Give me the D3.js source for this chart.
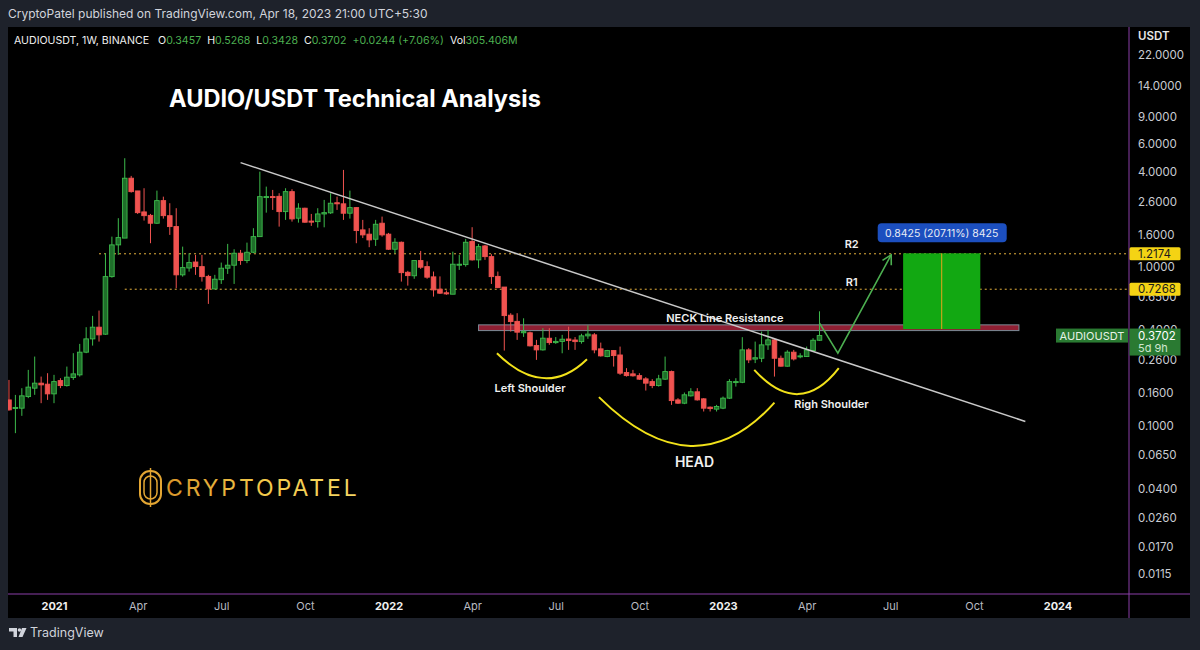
<!DOCTYPE html>
<html>
<head>
<meta charset="utf-8">
<script src="https://cdn.jsdelivr.net/npm/d3@7"></script>
<style>
  body { margin: 0; background: #1e222b; }
  svg text { font-family: "Inter", "Roboto", "DejaVu Sans", sans-serif; }
</style>
</head>
<body>
<div id="chart"></div>
<script>
// weekly bars, first bar = week of 16 Nov 2020
var firstWeek = "2020-11-16";
var opens = [0.145, 0.128, 0.1286, 0.1523, 0.1721, 0.1851, 0.1824, 0.1584, 0.1922, 0.1787,
    0.2010, 0.2089, 0.2906, 0.3527, 0.4182, 0.3777, 0.8732, 1.386, 1.53, 3.66,
    3.04, 2.24, 2.13, 1.90, 2.64, 2.12, 1.81, 0.896, 0.99, 1.08,
    1.01, 0.876, 0.730, 0.835, 0.987, 1.031, 1.2275, 1.103, 1.245, 1.563,
    2.78, 2.80, 2.81, 2.25, 3.009, 2.044, 2.364, 1.96, 1.945, 2.175,
    2.21, 2.56, 2.52, 2.198, 2.385, 1.724, 1.62, 1.505, 1.90, 1.62,
    1.301, 1.440, 0.93, 0.884, 1.103, 1.01, 0.87, 0.727, 0.69, 0.676,
    1.031, 1.04, 1.455, 1.114, 1.365, 1.168, 0.876, 0.75, 0.498, 0.455,
    0.3855, 0.3855, 0.320, 0.3005, 0.356, 0.334, 0.340, 0.352, 0.347, 0.339,
    0.3685, 0.374, 0.305, 0.2726, 0.2975, 0.279, 0.2160, 0.2119, 0.2066, 0.1970,
    0.1894, 0.1787, 0.1962, 0.2191, 0.1451, 0.1383, 0.1539, 0.1632, 0.1473, 0.1305,
    0.1268, 0.1286, 0.1488, 0.1875, 0.1875, 0.3005, 0.2628, 0.2660, 0.3233, 0.3476,
    0.2660, 0.2370, 0.2906, 0.2740, 0.2726, 0.2975, 0.3457];
var highs = [0.194, 0.156, 0.172, 0.2246, 0.2726, 0.2037, 0.2140, 0.2089, 0.1990, 0.2356,
    0.2864, 0.3279, 0.4182, 0.4930, 0.5325, 1.2275, 1.563, 2.044, 4.894, 3.784,
    3.04, 3.162, 2.175, 3.054, 2.797, 2.542, 2.364, 1.351, 1.2275, 1.198,
    1.198, 0.896, 0.896, 1.071, 1.406, 1.301, 1.288, 1.432, 1.767, 4.027,
    3.237, 3.085, 2.940, 3.162, 3.117, 2.542, 2.38, 2.175, 2.364, 2.667,
    2.940, 2.797, 4.128, 3.054, 2.40, 1.994, 1.767, 1.994, 2.092, 1.65,
    1.527, 1.455, 0.95, 1.103, 1.269, 1.09, 0.94, 0.876, 0.714, 1.256,
    1.198, 1.512, 1.793, 1.406, 1.386, 1.21, 0.94, 0.75, 0.5126, 0.5126,
    0.476, 0.392, 0.3476, 0.4122, 0.4122, 0.362, 0.374, 0.421, 0.362, 0.380,
    0.430, 0.384, 0.3341, 0.3005, 0.2990, 0.3153, 0.2303, 0.2246, 0.2140, 0.2020,
    0.1962, 0.2089, 0.2726, 0.2223, 0.1488, 0.1615, 0.1721, 0.1721, 0.1488, 0.1318,
    0.1349, 0.1523, 0.1962, 0.1990, 0.3615, 0.3080, 0.3391, 0.3922, 0.4021, 0.3527,
    0.2765, 0.2990, 0.3005, 0.2864, 0.3153, 0.3563, 0.5268];
var lows = [0.124, 0.0894, 0.115, 0.1488, 0.1562, 0.1383, 0.1451, 0.1383, 0.1721, 0.1761,
    0.1942, 0.2037, 0.2864, 0.3198, 0.3391, 0.3740, 0.86, 1.198, 1.53, 2.966,
    2.175, 1.974, 1.420, 1.881, 2.032, 1.603, 0.7377, 0.873, 0.939, 0.896,
    0.812, 0.587, 0.727, 0.785, 0.908, 0.785, 1.036, 1.062, 1.2275, 1.563,
    2.216, 2.306, 1.808, 1.994, 1.945, 1.916, 1.916, 1.828, 1.783, 1.79,
    2.175, 2.306, 1.994, 2.032, 1.420, 1.53, 1.340, 1.365, 1.563, 1.288,
    1.2275, 0.812, 0.766, 0.846, 0.977, 0.846, 0.6527, 0.679, 0.670, 0.676,
    0.963, 1.010, 1.103, 0.987, 1.114, 0.785, 0.7377, 0.2975, 0.3922, 0.3476,
    0.363, 0.316, 0.2598, 0.2975, 0.3235, 0.328, 0.286, 0.3005, 0.3005, 0.329,
    0.353, 0.286, 0.2726, 0.270, 0.2356, 0.2089, 0.2037, 0.2037, 0.1942, 0.1662,
    0.1721, 0.1761, 0.1942, 0.1349, 0.1370, 0.1364, 0.1523, 0.1436, 0.1225, 0.1225,
    0.1225, 0.1268, 0.1473, 0.1761, 0.1851, 0.2479, 0.2479, 0.2514, 0.3005, 0.2037,
    0.2356, 0.2356, 0.2574, 0.2660, 0.2710, 0.2950, 0.3428];
var closes = [0.1255, 0.130, 0.1539, 0.1747, 0.1851, 0.1806, 0.1584, 0.1894, 0.1787, 0.2020,
    0.2119, 0.2906, 0.3527, 0.4182, 0.3740, 0.8732, 1.386, 1.541, 3.658, 3.009,
    2.216, 2.121, 1.900, 2.640, 2.121, 1.809, 0.896, 0.9957, 1.071, 1.010,
    0.873, 0.730, 0.841, 0.987, 1.031, 1.2275, 1.103, 1.245, 1.563, 2.797,
    2.80, 2.79, 2.250, 3.009, 2.023, 2.364, 1.928, 1.93, 2.175, 2.216,
    2.542, 2.52, 2.198, 2.385, 1.707, 1.603, 1.490, 1.872, 1.603, 1.301,
    1.440, 0.925, 0.886, 1.103, 1.0015, 0.866, 0.7197, 0.686, 0.679, 1.046,
    1.046, 1.440, 1.114, 1.351, 1.168, 0.873, 0.744, 0.495, 0.4537, 0.3888,
    0.392, 0.3186, 0.3005, 0.3563, 0.3341, 0.340, 0.351, 0.344, 0.339, 0.3685,
    0.378, 0.3005, 0.2754, 0.2975, 0.2765, 0.2140, 0.2066, 0.2060, 0.1962, 0.1851,
    0.1787, 0.1970, 0.2191, 0.1436, 0.1383, 0.1562, 0.1632, 0.1451, 0.1286, 0.1278,
    0.1318, 0.1488, 0.1894, 0.1894, 0.3005, 0.2598, 0.2680, 0.3233, 0.3476, 0.2660,
    0.2370, 0.2906, 0.2633, 0.2754, 0.3005, 0.3457, 0.3702];

var yTicks = [22, 14, 9, 6, 4, 2.6, 1.6, 1, 0.65, 0.4, 0.26, 0.16, 0.1, 0.065, 0.04, 0.026, 0.017, 0.0115];
var xTickDates = ["2021-01-04", "2021-04-05", "2021-07-05", "2021-10-04", "2022-01-03", "2022-04-04",
    "2022-07-04", "2022-10-03", "2023-01-02", "2023-04-03", "2023-07-03", "2023-10-02", "2024-01-01"];
var xTickLabels = ["2021", "Apr", "Jul", "Oct", "2022", "Apr", "Jul", "Oct", "2023", "Apr", "Jul", "Oct", "2024"];

// drawings on the chart (date, price)
var levels = [{ name: "R2", price: 1.2174, from: "2021-02-22" }, { name: "R1", price: 0.7268, from: "2021-03-22" }];
var trendLine = [["2021-07-26", 4.59], ["2023-11-27", 0.106]];
var neckBand = { from: "2022-04-11", to: "2023-11-20", top: 0.4326, bottom: 0.398 };
var shoulderArcs = [
    [["2022-05-01", 0.2864], ["2022-06-22", 0.1445], ["2022-08-07", 0.2625]],
    [["2022-08-20", 0.151], ["2022-12-02", 0.038], ["2023-02-27", 0.1394]],
    [["2023-02-05", 0.2246], ["2023-03-26", 0.1095], ["2023-05-08", 0.2302]]
];
var projection = [["2023-04-17", 0.4433], ["2023-05-07", 0.2864], ["2023-07-04", 1.198]];
var target = { from: "2023-07-17", to: "2023-10-09", mid: "2023-08-28", top: 1.226, bottom: 0.4068 };
var notes = [
    { text: "NECK Line Resistance", date: "2023-01-04", price: 0.4516, size: 11 },
    { text: "Left Shoulder", date: "2022-06-06", price: 0.163, size: 11 },
    { text: "HEAD", date: "2022-12-02", price: 0.0548, size: 14 },
    { text: "Righ Shoulder", date: "2023-04-30", price: 0.1292, size: 11 },
    { text: "R2", date: "2023-05-22", price: 1.325, size: 11 },
    { text: "R1", date: "2023-05-22", price: 0.763, size: 11 }
];
var lastPrice = 0.3702;

var W = 1200, H = 650;
var plot = { left: 8, top: 27, right: 1129, bottom: 594 };

var svg = d3.select("#chart")
    .append("svg")
    .attr("width", W)
    .attr("height", H);

svg.append("rect").attr("width", W).attr("height", H).attr("fill", "#1e222b");
svg.append("rect")
    .attr("x", 8).attr("y", 27)
    .attr("width", 1182).attr("height", 591)
    .attr("fill", "#000");

var x = d3.scaleUtc()
    .domain([new Date("2021-01-04"), new Date("2024-01-01")])
    .range([54, 1057.5]);

var y = d3.scaleLog()
    .domain([0.0115, 22])
    .range([574, 55]);

function pt(p) { return [x(new Date(p[0])), y(p[1])]; }

svg.append("clipPath").attr("id", "plotclip")
    .append("rect")
    .attr("x", plot.left).attr("y", plot.top)
    .attr("width", plot.right - plot.left).attr("height", plot.bottom - plot.top);

var g = svg.append("g").attr("clip-path", "url(#plotclip)");

// candle data
var bars = opens.map(function (o, i) {
    return {
        date: d3.utcMonday.offset(new Date(firstWeek), i),
        o: o, h: highs[i], l: lows[i], c: closes[i]
    };
});
var up = "#3dbb4c", down = "#f05350";
var bw = 4.6;

// level lines
g.selectAll(".level")
    .data(levels)
    .enter().append("line")
    .attr("x1", function (d) { return x(new Date(d.from)); })
    .attr("x2", plot.right)
    .attr("y1", function (d) { return y(d.price); })
    .attr("y2", function (d) { return y(d.price); })
    .attr("stroke", "#e6b23e")
    .attr("stroke-width", 1)
    .attr("stroke-dasharray", "2,3");

// neckline band
g.append("rect")
    .attr("x", x(new Date(neckBand.from)))
    .attr("y", y(neckBand.top))
    .attr("width", x(new Date(neckBand.to)) - x(new Date(neckBand.from)))
    .attr("height", y(neckBand.bottom) - y(neckBand.top))
    .attr("fill", "#8f1f33")
    .attr("stroke", "#7c8a96")
    .attr("stroke-width", 1);

// wicks
g.selectAll(".wick")
    .data(bars)
    .enter().append("line")
    .attr("x1", function (d) { return x(d.date); })
    .attr("x2", function (d) { return x(d.date); })
    .attr("y1", function (d) { return y(d.h); })
    .attr("y2", function (d) { return y(d.l); })
    .attr("stroke", function (d) { return d.c >= d.o ? up : down; })
    .attr("stroke-width", 1);

// bodies
g.selectAll(".body")
    .data(bars)
    .enter().append("rect")
    .attr("x", function (d) { return x(d.date) - bw / 2; })
    .attr("y", function (d) { return y(Math.max(d.o, d.c)); })
    .attr("width", bw)
    .attr("height", function (d) { return Math.max(1, Math.abs(y(d.o) - y(d.c))); })
    .attr("fill", function (d) { return d.c >= d.o ? "#1f6e2a" : down; })
    .attr("stroke", function (d) { return d.c >= d.o ? up : down; })
    .attr("stroke-width", 0.9);

// descending trend line
g.append("line")
    .attr("x1", pt(trendLine[0])[0]).attr("y1", pt(trendLine[0])[1])
    .attr("x2", pt(trendLine[1])[0]).attr("y2", pt(trendLine[1])[1])
    .attr("stroke", "#c9c9c9")
    .attr("stroke-width", 1.5);

// shoulder / head curves
g.selectAll(".arc")
    .data(shoulderArcs)
    .enter().append("path")
    .attr("d", function (d) {
        var a = pt(d[0]), b = pt(d[1]), c = pt(d[2]);
        return "M" + a + "Q" + b + " " + c;
    })
    .attr("fill", "none")
    .attr("stroke", "#f2e21a")
    .attr("stroke-width", 2);

// long position box
g.append("rect")
    .attr("x", x(new Date(target.from)))
    .attr("y", y(target.top))
    .attr("width", x(new Date(target.to)) - x(new Date(target.from)))
    .attr("height", y(target.bottom) - y(target.top))
    .attr("fill", "#12a812");
g.append("line")
    .attr("x1", x(new Date(target.mid))).attr("x2", x(new Date(target.mid)))
    .attr("y1", y(target.top)).attr("y2", y(target.bottom))
    .attr("stroke", "#e8a51c")
    .attr("stroke-width", 1);

// projected path
svg.append("defs").append("marker")
    .attr("id", "arrow")
    .attr("markerUnits", "userSpaceOnUse")
    .attr("markerWidth", 14).attr("markerHeight", 14)
    .attr("refX", 10).attr("refY", 6)
    .attr("orient", "auto")
    .append("path")
    .attr("d", "M1,1 L10,6 L1,11")
    .attr("fill", "none")
    .attr("stroke", "#4caf50")
    .attr("stroke-width", 1.6);

g.append("path")
    .attr("d", d3.line()(projection.map(pt)))
    .attr("fill", "none")
    .attr("stroke", "#4caf50")
    .attr("stroke-width", 1.6)
    .attr("marker-end", "url(#arrow)");

// label over the box
var boxMid = x(new Date(target.mid));
svg.append("rect")
    .attr("x", boxMid - 64).attr("y", y(target.top) - 30)
    .attr("width", 129).attr("height", 19)
    .attr("rx", 4)
    .attr("fill", "#1c4fbf");
svg.append("text")
    .attr("x", boxMid).attr("y", y(target.top) - 16.5)
    .attr("text-anchor", "middle")
    .attr("fill", "#e8ecf5")
    .style("font-size", "10.5px")
    .text("0.8425 (207.11%) 8425");

// notes
svg.selectAll(".note")
    .data(notes)
    .enter().append("text")
    .attr("x", function (d) { return x(new Date(d.date)); })
    .attr("y", function (d) { return y(d.price); })
    .attr("text-anchor", "middle")
    .attr("fill", "#f0f0f0")
    .style("font-weight", "600")
    .style("font-size", function (d) { return d.size + "px"; })
    .text(function (d) { return d.text; });

// frame lines
svg.append("line")
    .attr("x1", plot.right).attr("x2", plot.right)
    .attr("y1", 27).attr("y2", 618)
    .attr("stroke", "#8a3ea8");
svg.append("line")
    .attr("x1", 8).attr("x2", 1190)
    .attr("y1", plot.bottom).attr("y2", plot.bottom)
    .attr("stroke", "#8a3ea8");

// right price axis
var yAxis = svg.append("g")
    .attr("transform", "translate(" + plot.right + ",0)")
    .call(d3.axisRight(y).tickValues(yTicks).tickFormat(d3.format(".4f")).tickSize(0).tickPadding(9));
yAxis.select(".domain").remove();
yAxis.selectAll("text")
    .attr("fill", "#c9ccd3")
    .style("font-size", "11.5px")
    .style("font-family", "Inter, Roboto, sans-serif");

svg.append("text")
    .attr("x", 1138).attr("y", 40)
    .attr("fill", "#e8e8e8")
    .style("font-size", "11.5px")
    .style("font-weight", "600")
    .text("USDT");

// bottom time axis
var xAxis = svg.append("g")
    .attr("transform", "translate(0," + plot.bottom + ")")
    .call(d3.axisBottom(x)
        .tickValues(xTickDates.map(function (d) { return new Date(d); }))
        .tickFormat(function (d, i) { return xTickLabels[i]; })
        .tickSize(0).tickPadding(8));
xAxis.select(".domain").remove();
xAxis.selectAll("text")
    .attr("fill", function (d, i) { return /^\d/.test(xTickLabels[i]) ? "#f0f0f0" : "#b8bbc2"; })
    .style("font-weight", function (d, i) { return /^\d/.test(xTickLabels[i]) ? "700" : "400"; })
    .style("font-size", "11px")
    .style("font-family", "Inter, Roboto, sans-serif");

// price labels on the axis
levels.forEach(function (d) {
    svg.append("rect")
        .attr("x", plot.right + 0.5).attr("y", y(d.price) - 6.5)
        .attr("width", 51).attr("height", 13)
        .attr("rx", 1.5)
        .attr("fill", "#f4d314");
    svg.append("text")
        .attr("x", 1138).attr("y", y(d.price) + 4)
        .attr("fill", "#1b1b1b")
        .style("font-size", "11.5px")
        .text(d3.format(".4f")(d.price));
});

var ly = y(lastPrice);
svg.append("rect")
    .attr("x", plot.right - 73).attr("y", ly - 7)
    .attr("width", 72).attr("height", 14)
    .attr("fill", "#2a7a32");
svg.append("text")
    .attr("x", plot.right - 37).attr("y", ly + 4)
    .attr("text-anchor", "middle")
    .attr("fill", "#e6f2e6")
    .style("font-size", "11px")
    .text("AUDIOUSDT");
svg.append("rect")
    .attr("x", plot.right + 0.5).attr("y", ly - 7)
    .attr("width", 51).attr("height", 27)
    .attr("fill", "#2a7a32");
svg.append("text")
    .attr("x", 1138).attr("y", ly + 4)
    .attr("fill", "#ffffff")
    .style("font-size", "11.5px")
    .text(d3.format(".4f")(lastPrice));
svg.append("text")
    .attr("x", 1138).attr("y", ly + 16)
    .attr("fill", "#cfe6cf")
    .style("font-size", "11px")
    .text("5d 9h");

// header lines
svg.append("text")
    .attr("x", 8).attr("y", 18)
    .attr("fill", "#d1d4dc")
    .style("font-size", "12px")
    .text("CryptoPatel published on TradingView.com, Apr 18, 2023 21:00 UTC+5:30");

var legend = svg.append("text")
    .attr("x", 14).attr("y", 44)
    .style("font-size", "10.6px")
    .attr("fill", "#f0f0f0");
// [text, colour, gap before]
var legendParts = [
    ["AUDIOUSDT, 1W, BINANCE", "#f0f0f0", 0], ["O", "#f0f0f0", 9], ["0.3457", "#4caf50", 0],
    ["H", "#f0f0f0", 6], ["0.5268", "#4caf50", 0], ["L", "#f0f0f0", 6], ["0.3428", "#4caf50", 0],
    ["C", "#f0f0f0", 6], ["0.3702", "#4caf50", 0], ["+0.0244 (+7.06%)", "#4caf50", 6],
    ["Vol", "#f0f0f0", 6], ["305.406M", "#4caf50", 0]
];
legend.selectAll("tspan")
    .data(legendParts)
    .enter().append("tspan")
    .attr("fill", function (d) { return d[1]; })
    .attr("dx", function (d) { return d[2]; })
    .text(function (d) { return d[0]; });

// title
svg.append("text")
    .attr("x", 169).attr("y", 107)
    .attr("fill", "#ffffff")
    .style("font-size", "23.6px")
    .style("font-weight", "700")
    .text("AUDIO/USDT Technical Analysis");

// CRYPTOPATEL mark
var grad = svg.select("defs").append("linearGradient")
    .attr("id", "gold")
    .attr("x1", "0%").attr("x2", "100%").attr("y1", "0%").attr("y2", "0%");
grad.append("stop").attr("offset", "0%").attr("stop-color", "#d9962a");
grad.append("stop").attr("offset", "50%").attr("stop-color", "#f2c94a");
grad.append("stop").attr("offset", "100%").attr("stop-color", "#f5d866");

var logo = svg.append("g");
logo.append("rect")
    .attr("x", 140).attr("y", 471).attr("width", 21).attr("height", 33).attr("rx", 10)
    .attr("fill", "none").attr("stroke", "#e3a633").attr("stroke-width", 2);
logo.append("rect")
    .attr("x", 144).attr("y", 476).attr("width", 13).attr("height", 23).attr("rx", 6.5)
    .attr("fill", "none").attr("stroke", "#e3a633").attr("stroke-width", 1.5);
logo.append("line")
    .attr("x1", 150.5).attr("x2", 150.5).attr("y1", 468).attr("y2", 507)
    .attr("stroke", "#e3a633").attr("stroke-width", 1.5);
logo.append("text")
    .attr("x", 166).attr("y", 496)
    .attr("fill", "url(#gold)")
    .style("font-size", "23px")
    .style("font-weight", "400")
    .style("letter-spacing", "2.9px")
    .text("CRYPTOPATEL");

// TradingView footer
var tv = svg.append("g").attr("fill", "#d1d4dc");
tv.append("rect").attr("x", 9).attr("y", 628).attr("width", 8).attr("height", 3.5);
tv.append("rect").attr("x", 13.5).attr("y", 628).attr("width", 3.5).attr("height", 9);
tv.append("circle").attr("cx", 19.5).attr("cy", 630).attr("r", 1.8);
tv.append("polygon").attr("points", "22,628 26.5,628 22.5,637 18.5,637");
svg.append("text")
    .attr("x", 30).attr("y", 637)
    .attr("fill", "#d1d4dc")
    .style("font-size", "12.5px")
    .text("TradingView");
</script>
</body>
</html>
